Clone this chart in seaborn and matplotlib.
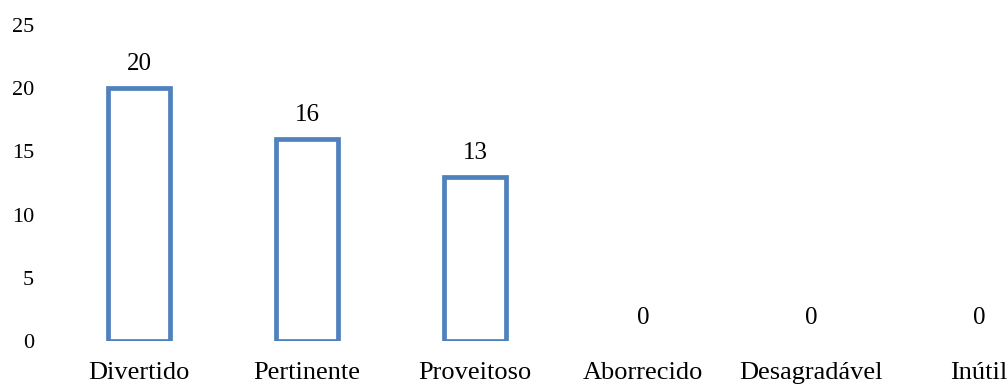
import numpy as np
import pandas as pd
import matplotlib
matplotlib.use("Agg")
import matplotlib.pyplot as plt
import seaborn as sns

categorias = ["Divertido", "Pertinente", "Proveitoso", "Aborrecido", "Desagradável", "Inútil"]
valores = [20, 16, 13, 0, 0, 0]

sns.set_style("white")
plt.rcParams['font.family'] = ['Liberation Serif', 'DejaVu Serif']
plt.rcParams['text.color'] = 'black'
plt.rcParams['xtick.color'] = 'black'
plt.rcParams['ytick.color'] = 'black'

df = pd.DataFrame({"categoria": categorias, "valor": valores})

fig = plt.figure(figsize=(10.08, 3.85), dpi=100)
ax = fig.add_axes([0.0546, 0.114, 1.0, 0.822])

sns.barplot(data=df, x="categoria", y="valor", ax=ax, color="white",
            edgecolor="#4F81BD", linewidth=3.4, width=0.37, saturation=1)

# barras com valor zero não aparecem no original
for p in ax.patches:
    if p.get_height() == 0:
        p.set_linewidth(0)

for c in ax.containers:
    ax.bar_label(c, padding=9, fontsize=18, color="black")

ax.set_ylim(0, 25)
ax.set_xlim(-0.5, len(categorias) - 0.5)
ax.set_yticks(np.arange(0, 26, 5))
ax.set_xlabel("")
ax.set_ylabel("")
ax.tick_params(axis="y", length=0, pad=15, labelsize=16)
ax.tick_params(axis="x", length=0, pad=15, labelsize=19)
for s in ax.spines.values():
    s.set_visible(False)

fig.savefig("out.png", dpi=100)
